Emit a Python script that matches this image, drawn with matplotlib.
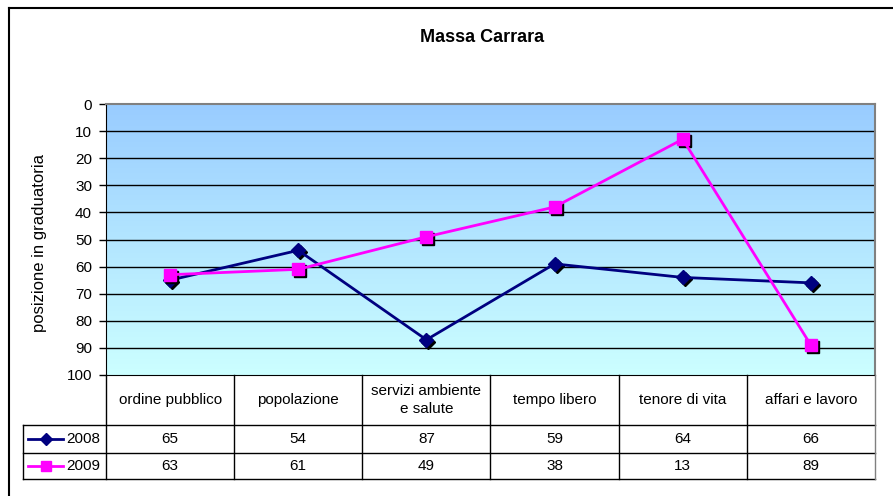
import matplotlib
matplotlib.use("Agg")
import matplotlib.pyplot as plt
import matplotlib.transforms as mtransforms
from matplotlib.lines import Line2D
import numpy as np

plt.rcParams['font.family'] = ['Liberation Sans', 'DejaVu Sans']

title = "Massa Carrara"
categories = ["ordine pubblico", "popolazione", "servizi ambiente\ne salute",
              "tempo libero", "tenore di vita", "affari e lavoro"]
series_names = ["2008", "2009"]
values_2008 = [65, 54, 87, 59, 64, 66]
values_2009 = [63, 61, 49, 38, 13, 89]
y_ticks = [0, 10, 20, 30, 40, 50, 60, 70, 80, 90, 100]
y_label = "posizione in graduatoria"

FS = 11
W, H = 893, 496
fig = plt.figure(figsize=(W / 100, H / 100), dpi=100)

# outer chart border (left/top visible)
fig.add_artist(Line2D([9 / W, 9 / W], [0, 1 - 8 / H], transform=fig.transFigure, color='black', lw=1.5))
fig.add_artist(Line2D([9 / W, 1], [1 - 8 / H, 1 - 8 / H], transform=fig.transFigure, color='black', lw=1.5))

left, right, top, bottom = 106, 875, 104, 375
ax = fig.add_axes([left / W, 1 - bottom / H, (right - left) / W, (bottom - top) / H])

n = len(categories)
x = np.arange(n)
ax.set_xlim(-0.5, n - 0.5)
ax.set_ylim(100, 0)

# gradient background
grad = np.linspace(0, 1, 256).reshape(-1, 1)
c_top = np.array([0x99, 0xCC, 0xFF]) / 255
c_bot = np.array([0xCC, 0xFF, 0xFF]) / 255
img = c_top + grad[..., None] * (c_bot - c_top)
img = img.reshape(256, 1, 3)
ax.imshow(img, extent=[-0.5, n - 0.5, 100, 0], aspect='auto', zorder=0)

for t in y_ticks[1:-1]:
    ax.axhline(t, color='black', lw=1.0, zorder=1)

ax.set_yticks(y_ticks)
ax.set_yticklabels([str(t) for t in y_ticks], fontsize=FS)
ax.tick_params(axis='y', direction='out', length=5, width=1, pad=5)
ax.set_xticks([])
for s in ['top', 'right']:
    ax.spines[s].set_color('#808080')
    ax.spines[s].set_linewidth(1.5)
ax.spines['left'].set_color('black')
ax.spines['bottom'].set_color('black')

shadow = mtransforms.offset_copy(ax.transData, fig=fig, x=2, y=-2, units='dots')
ax.plot(x, values_2008, linestyle='none', marker='D', ms=7, color='black', transform=shadow, zorder=3)
ax.plot(x, values_2008, color='#000080', lw=2, marker='D', ms=7, zorder=4)
ax.plot(x, values_2009, linestyle='none', marker='s', ms=8, color='black', transform=shadow, zorder=5)
ax.plot(x, values_2009, color='#FF00FF', lw=2, marker='s', ms=8, zorder=6)

fig.text(482 / W, 1 - 38 / H, title, ha='center', va='center', fontsize=13, fontweight='bold')
fig.text(40 / W, 1 - 243 / H, y_label, ha='center', va='center', rotation=90, fontsize=12)

# data table
tr = mtransforms.blended_transform_factory(ax.transData, fig.transFigure)
ftr = fig.transFigure

def fy(p):
    return 1 - p / H

rows_y = [375, 425, 453, 479]
tl = 23
lc = dict(color='black', lw=1, clip_on=False)
for yy in [425, 453, 479]:
    fig.add_artist(Line2D([tl / W, right / W], [fy(yy), fy(yy)], transform=ftr, **lc))
for i in range(n + 1):
    xx = i - 0.5
    fig.add_artist(Line2D([xx, xx], [fy(375), fy(479)], transform=tr, color='black' if i < n else '#808080', lw=1))
fig.add_artist(Line2D([tl / W, tl / W], [fy(425), fy(479)], transform=ftr, **lc))

for i, c in enumerate(categories):
    ax.text(i, fy(400), c, transform=tr, ha='center', va='center', fontsize=FS, linespacing=1.4)
for r, vals in enumerate([values_2008, values_2009]):
    yc = fy((rows_y[r + 1] + rows_y[r + 2]) / 2)
    for i, v in enumerate(vals):
        ax.text(i, yc, str(v), transform=tr, ha='center', va='center', fontsize=FS)

# legend keys
keys = [('#000080', 'D', 6), ('#FF00FF', 's', 7)]
for r, (col, mk, ms) in enumerate(keys):
    yc = fy((rows_y[r + 1] + rows_y[r + 2]) / 2)
    fig.add_artist(Line2D([28 / W, 63 / W], [yc, yc], transform=ftr, color=col, lw=2))
    fig.add_artist(Line2D([45.5 / W], [yc], transform=ftr, color=col, marker=mk, ms=ms, lw=0))
    fig.text(66 / W, yc, series_names[r], ha='left', va='center', fontsize=FS)

fig.savefig("out.png", dpi=100)
